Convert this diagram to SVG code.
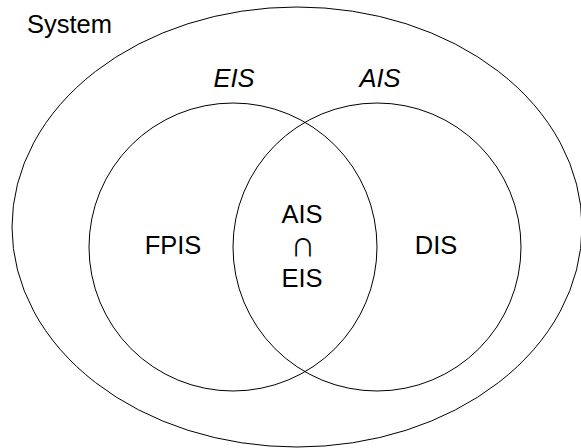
<svg xmlns="http://www.w3.org/2000/svg" width="581" height="448" viewBox="0 0 581 448">
  <style>
    .shape { fill: none; stroke: #000; stroke-width: 1; }
    .lbl { font-family: "Liberation Sans", Arial, sans-serif; font-size: 25.5px; fill: #000; text-anchor: middle; }
    .it { font-style: italic; }
    .cap { font-family: "Noto Sans CJK JP", "DejaVu Sans", sans-serif; font-size: 24px; font-weight: 400; }
  </style>
  <rect width="581" height="448" fill="#fff"/>
  <g id="system">
    <ellipse class="shape" cx="297" cy="227" rx="285" ry="220"/>
    <text class="lbl" x="27" y="33" style="text-anchor:start">System</text>
  </g>
  <g id="eis">
    <circle class="shape" cx="233" cy="247" r="144"/>
    <text class="lbl it" x="234" y="87">EIS</text>
  </g>
  <g id="ais">
    <circle class="shape" cx="377" cy="247" r="144"/>
    <text class="lbl it" x="380" y="87">AIS</text>
  </g>
  <g id="fpis">
    <text class="lbl" x="173" y="254">FPIS</text>
  </g>
  <g id="dis">
    <text class="lbl" x="436" y="254">DIS</text>
  </g>
  <g id="intersection">
    <text class="lbl" x="302" y="223">AIS</text>
    <text class="lbl cap" x="303" y="256">∩</text>
    <text class="lbl" x="302" y="287">EIS</text>
  </g>
  <g id="connectors"/>
</svg>
